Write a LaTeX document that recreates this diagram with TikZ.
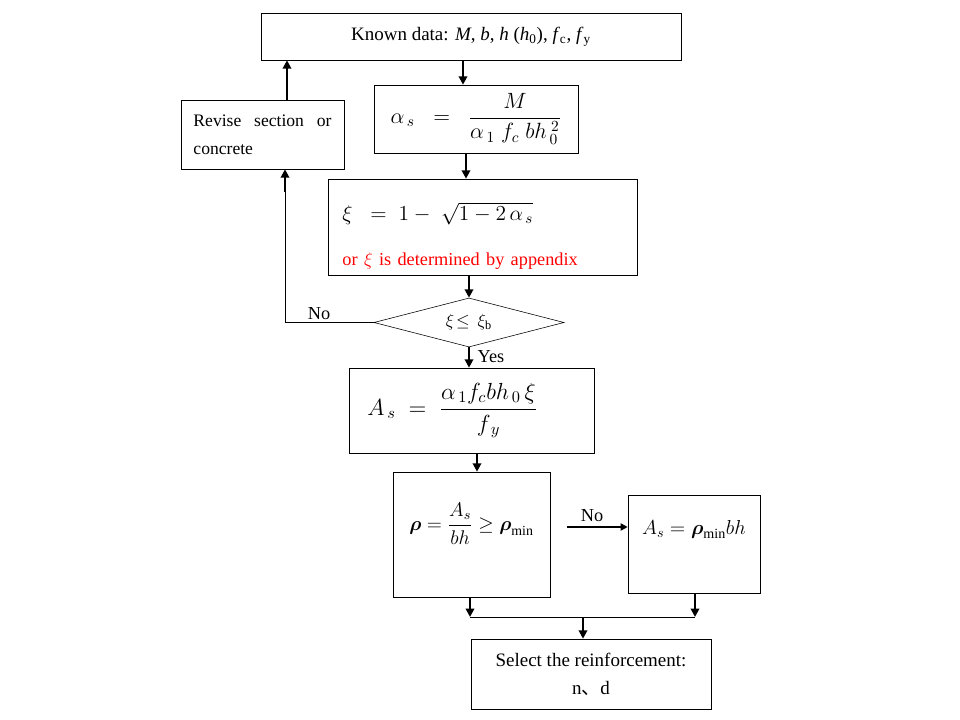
\RequirePackage{fix-cm}
\documentclass[tikz,border=0pt]{standalone}
\usepackage{fontspec}
\setmainfont{Liberation Serif}
\newfontfamily\cjk{Noto Sans CJK SC}
\usepackage{amsmath}
\usetikzlibrary{arrows.meta,shapes.geometric}

\newcommand{\formsize}[1]{\fontsize{#1}{1.2\dimexpr#1pt\relax}\selectfont}

\begin{document}
\begin{tikzpicture}[x=0.025cm,y=-0.025cm,
    box/.style={draw,thin,inner sep=0pt,font=\fontsize{13.5}{20}\selectfont},
    link/.style={line width=1.6pt,-{Triangle[length=6pt,width=6pt]}},
    nolink/.style={line width=1.2pt,-{Triangle[length=5pt,width=5pt]}},
    line/.style={thin},
    tag/.style={font=\fontsize{13}{15}\selectfont,inner sep=1pt}]
    \path[use as bounding box] (0,0) rectangle (960,720);

    % boxes
    \node[box,minimum width=10.5cm,minimum height=1.175cm] (known) at (471,36.5)
        {Known data: \textit{M}, \textit{b}, \textit{h} (\textit{h}\textsubscript{0}), \textit{f}\textsubscript{c}, \textit{f}\textsubscript{y}};
    \node[box,minimum width=5.1cm,minimum height=1.7cm] (alpha) at (476,119)
        {\formsize{15.7}$\alpha_{\,s} \;\;=\;\; \dfrac{M}{\alpha_{\,1}\; f_{c}\; bh_{\,0}^{\;2}}$};
    \node[box,minimum width=4.075cm,minimum height=1.725cm,text width=3.45cm,align=left,
        font=\fontsize{12.5}{20}\selectfont] (revise) at (262.5,134.5)
        {Revise\hfill section\hfill or\\concrete};
    \node[box,minimum width=7.725cm,minimum height=2.4cm,text width=7.0cm,align=left] (xi) at (482.5,227)
        {{\formsize{15.2}\rule{0pt}{25pt}$\xi \;\;=\; 1-\;\sqrt{1-2\,\alpha_{\,s}}$}\\[12pt]%
         {\fontsize{13}{16}\selectfont\color{red}or $\xi$ is determined by appendix}};
    \node[draw,thin,diamond,aspect=3.9,minimum width=4.75cm,minimum height=1.225cm,inner sep=0pt,
        font=\fontsize{12.5}{15}\selectfont] (check) at (469,322.5) {$\xi\!\leq\, \xi_{\mathrm{b}}$};
    \node[box,minimum width=6.125cm,minimum height=2.125cm,text width=5.2cm,align=left] (as) at (471.5,410.5)
        {\formsize{16.6}$A_{\,s} \;=\; \dfrac{\alpha_{\,1} f_{c} bh_{\,0}\,\xi}{f_{\,y}}$};
    \node[box,minimum width=3.925cm,minimum height=3.125cm,text depth=25pt] (rho) at (471.5,534.5)
        {\formsize{14.1}$\boldsymbol{\rho} = \dfrac{A_{s}}{bh} \geq \boldsymbol{\rho}_{\min}$};
    \node[box,minimum width=3.3cm,minimum height=2.45cm,text depth=24pt] (amin) at (694,544)
        {\formsize{14.4}$A_{s} = \boldsymbol{\rho}_{\min} bh$};
    \node[box,minimum width=6cm,minimum height=1.75cm,align=center] (select) at (591,674)
        {Select the reinforcement:\\n{\cjk 、}d};

    % lanes for the connectors
    \foreach \n/\x in {a/463,b/466,c/469,d/477,e/470,f/695,g/583,h/287,i/285}
        \coordinate (lane\n) at (\x,617);

    \draw[link] (known.south -| lanea) -- (alpha.north -| lanea);
    \draw[link] (alpha.south -| laneb) -- (xi.north -| laneb);
    \draw[link] (xi.south -| lanec) -- (check.north);
    \draw[link] (check.south) -- (as.north -| check.south);
    \node[tag,anchor=west] (yes) at (476,357) {Yes};
    \draw[link] (as.south -| laned) -- (rho.north -| laned);

    % no branch to the left
    \coordinate (loopup) at (285,192);
    \draw[line] (check.west) -| (loopup);
    \draw[link] (loopup) -- (revise.south -| loopup);
    \node[tag] (no1) at (319,314) {No};
    \draw[link] (revise.north -| laneh) -- (known.south -| laneh);

    % no branch to the right
    \coordinate (nostart) at (567,527);
    \draw[nolink] (nostart) -- (nostart -| amin.west);
    \node[tag] (no2) at (592,516) {No};

    % join
    \draw[line] (lanee) -- (lanef);
    \draw[link] (rho.south -| lanee) -- (lanee);
    \draw[link] (amin.south -| lanef) -- (lanef);
    \draw[link] (laneg) -- (select.north -| laneg);
\end{tikzpicture}
\end{document}
